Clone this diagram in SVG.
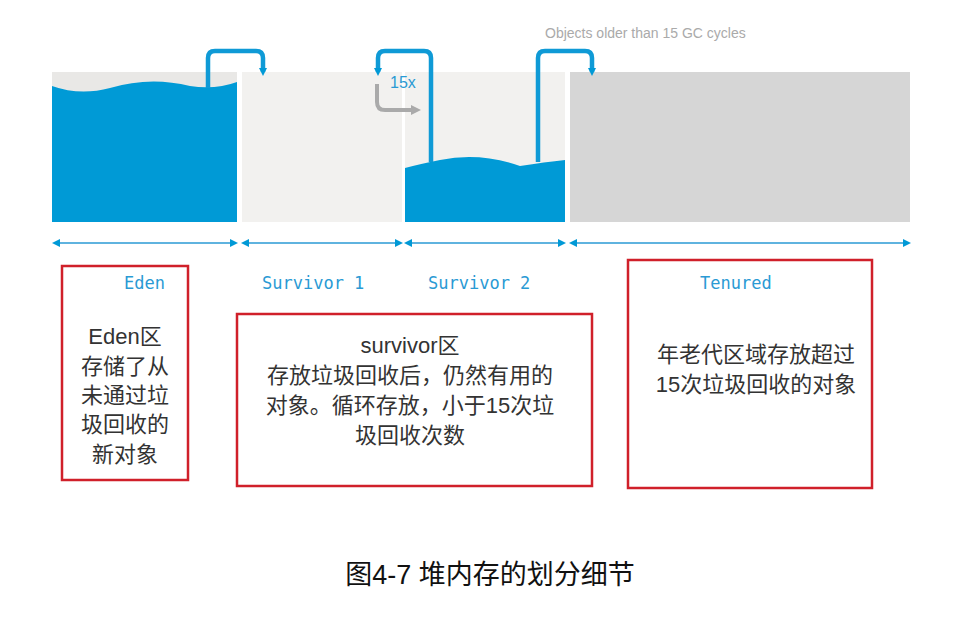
<svg xmlns="http://www.w3.org/2000/svg" width="980" height="618" viewBox="0 0 980 618">
<defs>
<marker id="ah" markerWidth="8" markerHeight="8" refX="4" refY="4" orient="auto" markerUnits="userSpaceOnUse"><path d="M0,0 L8,4 L0,8 Z" fill="#0099d6"/></marker>
<marker id="ahs" markerWidth="8" markerHeight="8" refX="4" refY="4" orient="auto-start-reverse" markerUnits="userSpaceOnUse"><path d="M0,0 L8,4 L0,8 Z" fill="#0099d6"/></marker>
<marker id="ag" markerWidth="10" markerHeight="10" refX="5" refY="5" orient="auto" markerUnits="userSpaceOnUse"><path d="M0,0 L10,5 L0,10 Z" fill="#aaaaaa"/></marker>
</defs>
<style>
.lab{font-family:"DejaVu Sans Mono",monospace;font-size:17px;fill:#2a9ad4}
.cn{font-family:"Liberation Sans","Noto Sans CJK SC",sans-serif;font-size:22px;fill:#333}
.red{fill:none;stroke:#d0202a;stroke-width:2.5}
.fl{fill:none;stroke:#0f9ad6;stroke-width:4.5;stroke-linejoin:round}
.dim{stroke:#2a9ad4;stroke-width:1.5;marker-start:url(#ahs);marker-end:url(#ah)}
</style>
<rect width="980" height="618" fill="#fff"/>
<g id="eden"><rect x="52" y="72" width="185" height="150" fill="#e9e8e6"/><path d="M52,86 Q80,96 110,88 Q150,76 190,86 Q215,90 237,82 L237,222 L52,222 Z" fill="#009ad6"/></g>
<g id="s1"><rect x="242" y="72" width="160" height="150" fill="#f2f1ef"/></g>
<g id="s2"><rect x="405" y="72" width="160" height="150" fill="#f2f1ef"/><path d="M405,168 Q420,164 440,160 Q480,152 520,166 Q545,162 565,160 L565,222 L405,222 Z" fill="#009ad6"/></g>
<g id="ten"><rect x="570" y="72" width="340" height="150" fill="#d6d6d6"/></g>
<text x="545" y="38" font-family="Liberation Sans,sans-serif" font-size="14" fill="#aaa">Objects older than 15 GC cycles</text>
<text x="390" y="88" font-family="Liberation Sans,sans-serif" font-size="16" fill="#2a9ad4">15x</text>
<g id="connectors">
<path class="fl" d="M208,88 V58 Q208,51 215,51 H256 Q263,51 263,58 V72" marker-end="url(#ah)"/>
<path class="fl" d="M431,162 V58 Q431,51 424,51 H385 Q378,51 378,58 V72" marker-end="url(#ah)"/>
<path d="M377,84 V102 Q377,110 385,110 H416" fill="none" stroke="#aaa" stroke-width="4" marker-end="url(#ag)"/>
<path class="fl" d="M538,162 V58 Q538,51 545,51 H585 Q592,51 592,58 V72" marker-end="url(#ah)"/>
<line class="dim" x1="56" y1="243" x2="234" y2="243"/>
<line class="dim" x1="245" y1="243" x2="399" y2="243"/>
<line class="dim" x1="408" y1="243" x2="562" y2="243"/>
<line class="dim" x1="573" y1="243" x2="907" y2="243"/>
</g>
<text class="lab" x="124" y="289">Eden</text>
<text class="lab" x="262" y="289">Survivor 1</text>
<text class="lab" x="428" y="289">Survivor 2</text>
<text class="lab" x="700" y="289">Tenured</text>
<g id="n1"><rect class="red" x="62" y="266" width="126" height="214"/>
<text class="cn" text-anchor="middle"><tspan x="125" y="344">Eden区</tspan><tspan x="125" y="374">存储了从</tspan><tspan x="125" y="403">未通过垃</tspan><tspan x="125" y="432">圾回收的</tspan><tspan x="125" y="462">新对象</tspan></text></g>
<g id="n2"><rect class="red" x="237" y="314" width="355" height="172"/>
<text class="cn" text-anchor="middle"><tspan x="410" y="353">survivor区</tspan><tspan x="410" y="383">存放垃圾回收后，仍然有用的</tspan><tspan x="410" y="413">对象。循环存放，小于15次垃</tspan><tspan x="410" y="443">圾回收次数</tspan></text></g>
<g id="n3"><rect class="red" x="628" y="260" width="244" height="228"/>
<text class="cn" text-anchor="middle"><tspan x="756" y="362">年老代区域存放超过</tspan><tspan x="756" y="392">15次垃圾回收的对象</tspan></text></g>
<text x="490" y="584" text-anchor="middle" font-family="Liberation Sans,Noto Sans CJK SC,sans-serif" font-size="27" fill="#111">图4-7 堆内存的划分细节</text>
</svg>
